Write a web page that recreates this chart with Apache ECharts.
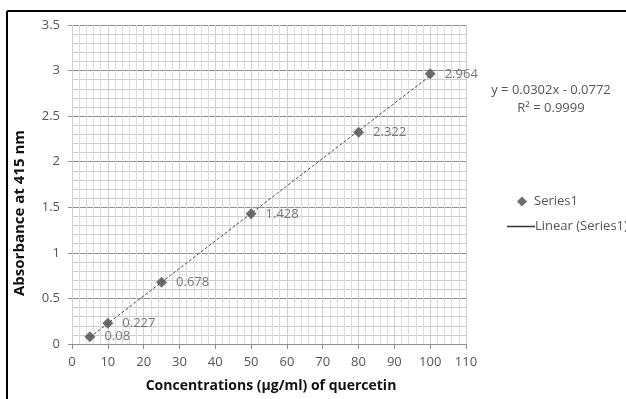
<!DOCTYPE html>
<html>
<head>
<meta charset="utf-8">
<script src="https://cdn.jsdelivr.net/npm/echarts@6/dist/echarts.min.js"></script>
<style>
  html, body { margin: 0; padding: 0; background: #fff; }
  #chart { width: 626px; height: 399px; }
</style>
</head>
<body>
<div id="chart"></div>
<script>
// 数据
const concentrations = [5, 10, 25, 50, 80, 100];
const absorbance = [0.08, 0.227, 0.678, 1.428, 2.322, 2.964];
const pointLabels = ['0.08', '0.227', '0.678', '1.428', '2.322', '2.964'];
// 趋势线 y = 0.0302x - 0.0772
const slope = 0.0302;
const intercept = -0.0772;
const equationText = 'y = 0.0302x - 0.0772';
const r2Text = 'R² = 0.9999';

const trendX = [concentrations[0], concentrations[concentrations.length - 1]];
const trendData = trendX.map(x => [x, slope * x + intercept]);

const font = '"Open Sans", Lato, sans-serif';
const myChart = echarts.init(document.getElementById('chart'));

const option = {
    backgroundColor: '#fff',
    animation: false,
    textStyle: { fontFamily: font },
    grid: { left: 72, right: 160, top: 25, bottom: 55 },
    xAxis: {
        type: 'value',
        min: 0,
        max: 110,
        interval: 10,
        axisLine: { show: false },
        axisTick: { show: true, length: 5, lineStyle: { color: '#8c8c8c' } },
        axisLabel: { color: '#555', fontSize: 13, margin: 12 },
        splitLine: { show: true, lineStyle: { color: '#cfcfcf', width: 1 } },
        minorTick: { show: false, splitNumber: 5 },
        minorSplitLine: { show: true, lineStyle: { color: '#dcdcdc', width: 1 } },
    },
    yAxis: {
        type: 'value',
        min: 0,
        max: 3.5,
        interval: 0.5,
        axisLine: { show: false },
        axisTick: { show: true, length: 4, lineStyle: { color: '#8c8c8c' } },
        axisLabel: { color: '#555', fontSize: 13, margin: 12 },
        splitLine: { show: true, lineStyle: { color: '#8f8f8f', width: 1 } },
        minorTick: { show: false, splitNumber: 5 },
        minorSplitLine: { show: true, lineStyle: { color: '#cccccc', width: 1 } },
    },
    legend: [
        {
            data: ['Series1'],
            orient: 'vertical',
            left: 512,
            top: 190,
            icon: 'diamond',
            itemWidth: 10,
            itemHeight: 10,
            textStyle: { color: '#555', fontSize: 13, fontFamily: font, padding: [0, 0, 0, 2] },
        },
        {
            data: ['Linear (Series1)'],
            orient: 'vertical',
            left: 502,
            top: 215,
            icon: 'rect',
            itemWidth: 28,
            itemHeight: 1.5,
            itemGap: 2,
            textStyle: { color: '#555', fontSize: 13, fontFamily: font, padding: [0, 0, 0, -5] },
        }
    ],
    series: [
        {
            name: 'Linear (Series1)',
            type: 'line',
            data: trendData,
            symbol: 'none',
            lineStyle: { color: '#4a4a4a', width: 1, type: [3, 2] },
            itemStyle: { color: '#333' },
            z: 2,
        },
        {
            name: 'Series1',
            type: 'scatter',
            data: concentrations.map((x, i) => [x, absorbance[i]]),
            symbol: 'diamond',
            symbolSize: 11,
            itemStyle: { color: '#4a4a4a' },
            label: {
                show: true,
                position: 'right',
                distance: 9,
                color: '#555',
                fontSize: 13,
                fontFamily: font,
                formatter: (p) => pointLabels[p.dataIndex],
            },
            z: 3,
        }
    ],
    graphic: [
        // 外框
        { type: 'line', shape: { x1: 7, y1: 11, x2: 626, y2: 11 }, style: { stroke: '#000', lineWidth: 2 } },
        { type: 'line', shape: { x1: 7, y1: 11, x2: 7, y2: 399 }, style: { stroke: '#000', lineWidth: 2 } },
        // 坐标轴名称
        {
            type: 'text', x: 271, y: 386,
            style: { text: 'Concentrations (µg/ml) of quercetin', fill: '#111', font: 'bold 14px ' + font, align: 'center', verticalAlign: 'middle' }
        },
        {
            type: 'text', x: 12, y: 213, rotation: Math.PI / 2,
            style: { text: 'Absorbance at 415 nm', fill: '#111', font: 'bold 15px ' + font, align: 'center', verticalAlign: 'top' }
        },
        // 趋势线方程
        {
            type: 'text', x: 551, y: 90,
            style: { text: equationText, fill: '#555', font: '13px ' + font, align: 'center', verticalAlign: 'middle' }
        },
        {
            type: 'text', x: 551, y: 108,
            style: { text: r2Text, fill: '#555', font: '13px ' + font, align: 'center', verticalAlign: 'middle' }
        }
    ]
};

myChart.setOption(option);
window.addEventListener('resize', () => {
    myChart.resize();
});
</script>
</body>
</html>
